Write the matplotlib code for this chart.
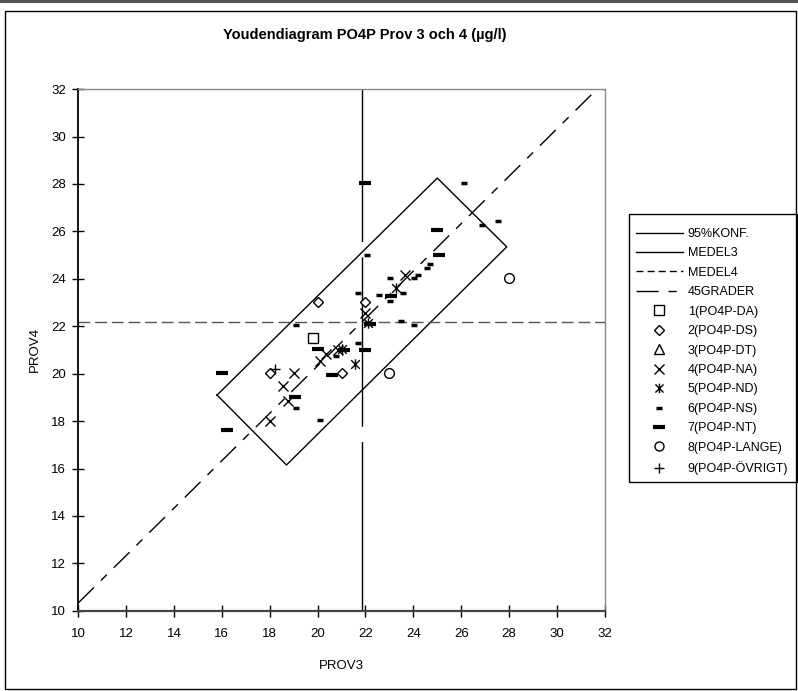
import matplotlib
matplotlib.use("Agg")
import matplotlib.pyplot as plt
from matplotlib.lines import Line2D
from matplotlib.path import Path
from matplotlib.patches import Rectangle

plt.rcParams['font.family'] = ['Liberation Sans', 'DejaVu Sans']

# means and 95% confidence rectangle (corner points)
medel3 = 21.87
medel4 = 22.2
konf_x = [15.8, 25.0, 27.9, 18.7, 15.8]
konf_y = [19.1, 28.25, 25.35, 16.15, 19.1]

# lab results (PROV3, PROV4) per method group
da_x = [19.8]
da_y = [21.52]
ds_x = [20.0, 22.0, 21.0, 18.0]
ds_y = [23.04, 23.04, 20.05, 20.05]
dt_x = []
dt_y = []
na_x = [22.0, 23.65, 20.36, 20.85, 20.08, 19.0, 18.55, 18.75, 18.0]
na_y = [22.55, 24.15, 20.82, 21.02, 20.54, 20.05, 19.5, 18.85, 18.0]
nd_x = [22.1, 23.28, 21.0, 21.58]
nd_y = [22.15, 23.61, 21.03, 20.4]
ns_x = [26.1, 27.55, 26.85, 22.05, 21.68, 19.08, 24.7, 24.57, 24.2, 24.04,
        23.04, 23.55, 22.55, 23.04, 23.49, 24.04, 21.68, 20.75, 19.08, 20.08]
ns_y = [28.05, 26.45, 26.25, 25.0, 23.42, 22.04, 24.64, 24.44, 24.15, 24.05,
        24.03, 23.42, 23.32, 23.06, 22.22, 22.05, 21.31, 20.75, 18.54, 18.05]
nt_x = [22.0, 25.0, 25.05, 23.07, 22.2, 20.0, 22.0, 21.1, 20.6, 16.0, 19.04, 16.2]
nt_y = [28.05, 26.04, 25.0, 23.28, 22.1, 21.03, 21.0, 21.0, 19.95, 20.05, 19.03, 17.63]
lange_x = [28.0, 23.0]
lange_y = [24.03, 20.05]
ovr_x = [18.2]
ovr_y = [20.2]

ticks = [10, 12, 14, 16, 18, 20, 22, 24, 26, 28, 30, 32]

# asterisk like marker: X with a vertical bar
star = Path([(-1, -1), (1, 1), (-1, 1), (1, -1), (0, -1.2), (0, 1.2)],
            [Path.MOVETO, Path.LINETO] * 3)

fig = plt.figure(figsize=(7.98, 6.91), dpi=100)
ax = fig.add_axes([0.098, 0.116, 0.660, 0.755])

# confidence box and reference lines
ax.plot(konf_x, konf_y, color='black', lw=1)
ax.plot([medel3, medel3], [10, 32], color='black', lw=1, dashes=(122, 11))
ax.plot([10, 32], [medel4, medel4], color='#555555', lw=1, dashes=(8.5, 3.5))
ax.plot([10, 32 - (medel4 - medel3)], [10 + (medel4 - medel3), 32],
        color='black', lw=1, dashes=(16, 7, 6, 7))

mk = dict(linestyle='none', color='black')
ax.plot(da_x, da_y, marker='s', ms=7, mfc='white', mew=1, **mk)
ax.plot(ds_x, ds_y, marker='D', ms=5.5, mfc='white', mew=1, **mk)
ax.plot(dt_x, dt_y, marker='^', ms=7, mfc='white', mew=1, **mk)
ax.plot(na_x, na_y, marker='x', ms=7.5, mew=1, **mk)
ax.plot(nd_x, nd_y, marker=star, ms=7.5, mew=1, **mk)
ax.plot(ns_x, ns_y, marker='_', ms=5, mew=2.5, **mk)
ax.plot(nt_x, nt_y, marker='_', ms=8, mew=3, **mk)
ax.plot(lange_x, lange_y, marker='o', ms=7, mfc='white', mew=1, **mk)
ax.plot(ovr_x, ovr_y, marker='+', ms=7.5, mew=1, **mk)

ax.set_xlim(10, 32)
ax.set_ylim(10, 32)
ax.set_xticks(ticks)
ax.set_yticks(ticks)
ax.tick_params(direction='inout', length=8, width=1, labelsize=9.5, pad=5)
ax.tick_params(axis='x', pad=8)
for side in ['top', 'right']:
    ax.spines[side].set_color('#888888')
    ax.spines[side].set_linewidth(1)
ax.spines['left'].set_linewidth(1.3)
ax.spines['bottom'].set_color('#444444')
ax.spines['bottom'].set_linewidth(1.6)
ax.set_xlabel('PROV3', fontsize=9.5, labelpad=15)
ax.set_ylabel('PROV4', fontsize=9.5, labelpad=7)

fig.text(0.457, 0.949, 'Youdendiagram PO4P Prov 3 och 4 (µg/l)',
         ha='center', va='center', fontsize=10.5, fontweight='bold')

# legend (frame drawn separately)
handles = [
    Line2D([], [], color='black', lw=1),
    Line2D([], [], color='black', lw=1),
    Line2D([], [], color='black', lw=1, dashes=(5, 3)),
    Line2D([], [], color='black', lw=1, dashes=(16, 7, 6, 7)),
    Line2D([], [], marker='s', ms=6.5, mfc='white', mew=1, **mk),
    Line2D([], [], marker='D', ms=5, mfc='white', mew=1, **mk),
    Line2D([], [], marker='^', ms=6.5, mfc='white', mew=1, **mk),
    Line2D([], [], marker='x', ms=7, mew=1, **mk),
    Line2D([], [], marker=star, ms=7, mew=1, **mk),
    Line2D([], [], marker='_', ms=5, mew=2.5, **mk),
    Line2D([], [], marker='_', ms=8, mew=3, **mk),
    Line2D([], [], marker='o', ms=6.5, mfc='white', mew=1, **mk),
    Line2D([], [], marker='+', ms=7, mew=1, **mk),
]
labels = ['95%KONF.', 'MEDEL3', 'MEDEL4', '45GRADER', '1(PO4P-DA)', '2(PO4P-DS)',
          '3(PO4P-DT)', '4(PO4P-NA)', '5(PO4P-ND)', '6(PO4P-NS)', '7(PO4P-NT)',
          '8(PO4P-LANGE)', '9(PO4P-ÖVRIGT)']
fig.legend(handles, labels, loc='upper left', bbox_to_anchor=(0.788, 0.680),
           fontsize=9, frameon=False, handlelength=3.8, handletextpad=0.35,
           labelspacing=0.595, borderpad=0.55, borderaxespad=0)
fig.add_artist(Rectangle((629 / 798, 1 - 482 / 691), 168 / 798, 268 / 691,
                         transform=fig.transFigure, fill=False,
                         edgecolor='black', lw=1))

# outer chart border
fig.add_artist(Rectangle((0, 0.996), 1, 0.004, transform=fig.transFigure,
                         facecolor='#555555', edgecolor='none'))
fig.add_artist(Rectangle((5 / 798, 2 / 691), 791 / 798, 678 / 691,
                         transform=fig.transFigure, fill=False,
                         edgecolor='black', lw=1))

fig.savefig('out.png', dpi=100)
